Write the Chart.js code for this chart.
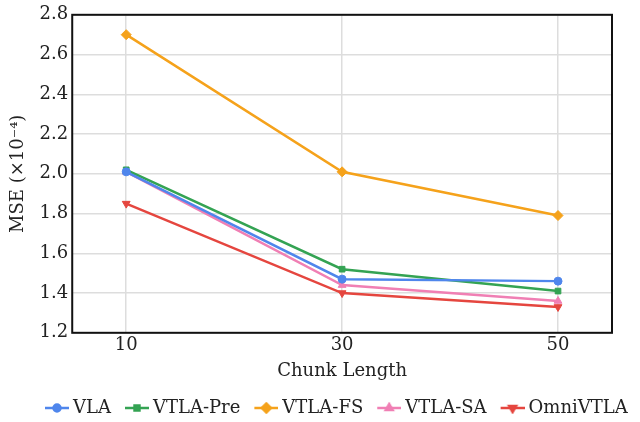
<!DOCTYPE html>
<html>
<head>
<meta charset="utf-8">
<script src="https://cdn.jsdelivr.net/npm/chart.js@4"></script>
<style>
  html, body { margin: 0; padding: 0; background: #fff; }
  #wrap { width: 640px; height: 422px; }
</style>
</head>
<body>
<div id="wrap"><canvas id="chart"></canvas></div>
<script>
// Chunk lengths on the x axis
const chunkLengths = [10, 30, 50];
const yTicks = [1.2, 1.4, 1.6, 1.8, 2.0, 2.2, 2.4, 2.6, 2.8];

// MSE (x1e-4) per method
const vla = [2.01, 1.47, 1.46];
const vtlaPre = [2.02, 1.52, 1.41];
const vtlaFS = [2.70, 2.01, 1.79];
const vtlaSA = [2.01, 1.44, 1.36];
const omniVTLA = [1.85, 1.40, 1.33];

const seriesNames = ['VLA', 'VTLA-Pre', 'VTLA-FS', 'VTLA-SA', 'OmniVTLA'];
const seriesValues = [vla, vtlaPre, vtlaFS, vtlaSA, omniVTLA];
const colors = ['#4f86ec', '#34a353', '#f5a21b', '#f07fb4', '#e5463f'];
const markers = ['circle', 'rect', 'rectRot', 'triangle', 'triangle'];
const rotations = [0, 0, 0, 0, 180];
const radii = [4, 4, 5, 4.5, 4.5];

const FONT = "'DejaVu Serif', serif";

// legend icon: line with marker in the middle. The canvas is centred on the
// legend box, so the visible part is drawn in its right-hand 24px.
function legendIcon(i) {
    const c = document.createElement('canvas');
    c.width = 33;
    c.height = 12;
    const ctx = c.getContext('2d');
    ctx.strokeStyle = colors[i];
    ctx.lineWidth = 2.5;
    ctx.beginPath();
    ctx.moveTo(9, 6);
    ctx.lineTo(33, 6);
    ctx.stroke();
    Chart.helpers.drawPoint(ctx, {
        pointStyle: markers[i],
        rotation: rotations[i],
        radius: radii[i] - 0.5,
        borderWidth: 1
    }, 21, 6);
    ctx.fillStyle = colors[i];
    ctx.fill();
    return c;
}

const datasets = seriesNames.map((name, i) => ({
    label: name,
    data: chunkLengths.map((x, j) => ({ x: x, y: seriesValues[i][j] })),
    borderColor: colors[i],
    backgroundColor: colors[i],
    borderWidth: 2.5,
    pointStyle: markers[i],
    pointRotation: rotations[i],
    pointRadius: radii[i],
    pointBorderWidth: 1,
    tension: 0
}));

// move the legend to where the reference has it
const legendShift = {
    id: 'legendShift',
    afterLayout(chart) {
        chart.legend.left += 31;
        chart.legend.top += 7;
    }
};

// black frame around the plot area
const frame = {
    id: 'frame',
    afterDatasetsDraw(chart) {
        const a = chart.chartArea;
        const ctx = chart.ctx;
        ctx.save();
        ctx.strokeStyle = '#111';
        ctx.lineWidth = 2;
        ctx.strokeRect(a.left, a.top, a.right - a.left, a.bottom - a.top);
        ctx.restore();
    }
};

new Chart(document.getElementById('chart'), {
    type: 'line',
    data: { datasets: datasets },
    plugins: [legendShift, frame],
    options: {
        responsive: true,
        maintainAspectRatio: false,
        animation: false,
        layout: { padding: { top: 10, right: 0, left: 0, bottom: 2 } },
        plugins: {
            tooltip: { enabled: false },
            legend: {
                position: 'bottom',
                align: 'start',
                labels: {
                    usePointStyle: true,
                    pointStyleWidth: 23,
                    padding: 10,
                    color: '#222',
                    font: { family: FONT, size: 18 },
                    generateLabels(chart) {
                        const items = Chart.defaults.plugins.legend.labels.generateLabels(chart);
                        items.forEach((it, i) => { it.pointStyle = legendIcon(i); it.rotation = 0; });
                        return items;
                    }
                }
            }
        },
        scales: {
            x: {
                type: 'linear',
                min: 5,
                max: 55,
                afterBuildTicks(axis) {
                    axis.ticks = chunkLengths.map(v => ({ value: v }));
                },
                grid: { color: '#dddddd', lineWidth: 1.5, drawTicks: false },
                border: { display: false },
                ticks: {
                    color: '#222',
                    padding: 2,
                    font: { family: FONT, size: 18 }
                },
                title: {
                    display: true,
                    text: 'Chunk Length',
                    color: '#222',
                    padding: { top: 2, bottom: 0 },
                    font: { family: FONT, size: 18 }
                }
            },
            y: {
                min: 1.2,
                max: 2.8,
                afterBuildTicks(axis) {
                    axis.ticks = yTicks.map(v => ({ value: v }));
                },
                grid: { color: '#dddddd', lineWidth: 1.5, drawTicks: false },
                border: { display: false },
                ticks: {
                    color: '#222',
                    padding: 4,
                    font: { family: FONT, size: 18 },
                    callback: v => v.toFixed(1)
                },
                title: {
                    display: true,
                    text: 'MSE (×10⁻⁴)',
                    color: '#222',
                    padding: { top: 8, bottom: 6 },
                    font: { family: FONT, size: 18 }
                }
            },
            // empty right axis, only reserves the margin right of the plot
            yRight: {
                position: 'right',
                display: true,
                grid: { display: false, drawTicks: false },
                border: { display: false },
                ticks: { display: false },
                afterFit(axis) {
                    axis.width = 28;
                }
            }
        }
    }
});
</script>
</body>
</html>
